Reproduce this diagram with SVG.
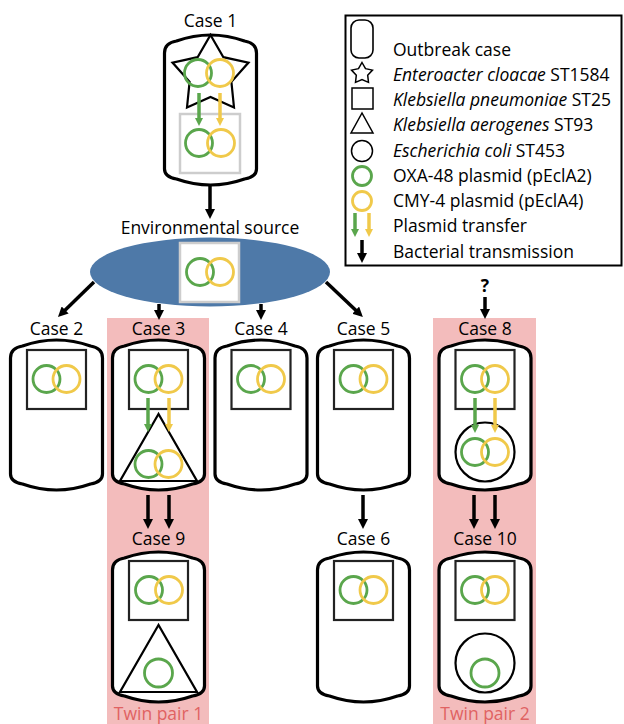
<svg xmlns="http://www.w3.org/2000/svg" width="624" height="724" viewBox="0 0 624 724">
<style>
text{font-family:"Open Sans","Liberation Sans",sans-serif;font-size:17.5px;fill:#000}
.lbl{text-anchor:middle}
.twin{fill:#e06262;text-anchor:middle}
.cyl{fill:#fff;stroke:#000;stroke-width:3.2}
.sq{fill:#fff;stroke:#222;stroke-width:2.2}
.gbox{fill:#fff;stroke:#cdcdcd;stroke-width:2.5}
.sh{fill:#fff;stroke:#000;stroke-width:2.2}
.g{fill:none;stroke:#5aa64c;stroke-width:2.8}
.y{fill:none;stroke:#f0c94a;stroke-width:2.8}
.pink{fill:#f3bcbc}
.ba{stroke:#000;stroke-width:3.5;fill:none;marker-end:url(#ab)}
.ga{stroke:#5aa64c;stroke-width:3.5;fill:none;marker-end:url(#ag)}
.ya{stroke:#f0c94a;stroke-width:3.5;fill:none;marker-end:url(#ay)}
</style>
<defs>
<path id="cylp" d="M0,18 Q0,8 12,6 Q46,-6 80,6 Q92,8 92,18 L92,134 Q92,142 80,144 Q46,156 12,144 Q0,142 0,134 Z"/>
<marker id="ab" markerUnits="userSpaceOnUse" markerWidth="10" markerHeight="10" refX="2" refY="5" orient="auto"><path d="M0,0 L10,5 L0,10 Z" fill="#000"/></marker>
<marker id="ag" markerUnits="userSpaceOnUse" markerWidth="8" markerHeight="8" refX="2" refY="4" orient="auto"><path d="M0,0 L8,4 L0,8 Z" fill="#5aa64c"/></marker>
<marker id="ay" markerUnits="userSpaceOnUse" markerWidth="8" markerHeight="8" refX="2" refY="4" orient="auto"><path d="M0,0 L8,4 L0,8 Z" fill="#f0c94a"/></marker>
</defs>
<rect fill="#fff" x="0" y="0" width="624" height="724"/>
<g id="twin1"><rect class="pink" x="107" y="318" width="102" height="406"/><text class="twin" x="158.5" y="720">Twin pair 1</text></g>
<g id="twin2"><rect class="pink" x="433" y="318" width="103" height="406"/><text class="twin" x="485" y="720">Twin pair 2</text></g>

<g id="legend">
<rect x="345.5" y="15.5" width="276" height="250" fill="#fff" stroke="#000" stroke-width="2"/>
<rect x="351" y="20" width="22" height="38" rx="8" fill="#fff" stroke="#000" stroke-width="1.6"/>
<text x="393" y="56">Outbreak case</text>
<polygon points="362,62.5 365.5,68.65 372.5,70.1 367.7,75.35 368.5,82.4 362,79.5 355.5,82.4 356.3,75.35 351.5,70.1 358.5,68.65" fill="#fff" stroke="#000" stroke-width="1.5"/>
<text x="393" y="81"><tspan font-style="italic">Enteroacter cloacae</tspan> ST1584</text>
<rect x="352" y="88" width="21" height="21" fill="#fff" stroke="#000" stroke-width="1.5"/>
<text x="393" y="106"><tspan font-style="italic">Klebsiella pneumoniae</tspan> ST25</text>
<polygon points="362,113 351,133 373,133" fill="#fff" stroke="#000" stroke-width="1.5"/>
<text x="393" y="131"><tspan font-style="italic">Klebsiella aerogenes</tspan> ST93</text>
<circle cx="362" cy="151" r="10.5" fill="#fff" stroke="#000" stroke-width="1.5"/>
<text x="393" y="157"><tspan font-style="italic">Escherichia coli</tspan> ST453</text>
<circle class="g" cx="362" cy="176" r="9.5"/>
<text x="393" y="182">OXA-48 plasmid (pEclA2)</text>
<circle class="y" cx="362" cy="201" r="9.5"/>
<text x="393" y="207">CMY-4 plasmid (pEclA4)</text>
<line class="ga" x1="355" y1="213" x2="355" y2="231"/>
<line class="ya" x1="369" y1="213" x2="369" y2="231"/>
<text x="393" y="232">Plasmid transfer</text>
<line class="ba" x1="362" y1="240" x2="362" y2="255" stroke-width="2.5"/>
<text x="393" y="258">Bacterial transmission</text>
</g>

<g id="case1">
<text class="lbl" x="210.5" y="27">Case 1</text>
<use href="#cylp" class="cyl" x="164.5" y="35"/>
<polygon class="sh" points="210.5,35 223.4,57.2 248.5,62.6 231.4,81.8 234,107.4 210.5,97 187,107.4 189.6,81.8 172.5,62.6 197.6,57.2"/>
<circle class="g" cx="198" cy="73" r="13.5"/>
<circle class="y" cx="220" cy="73" r="13.5"/>
<rect class="gbox" x="180" y="114" width="60" height="59"/>
<circle class="g" cx="199" cy="143" r="13.5"/>
<circle class="y" cx="221" cy="143" r="13.5"/>
<line class="ga" x1="199" y1="93" x2="199" y2="120"/>
<line class="ya" x1="220" y1="93" x2="220" y2="120"/>
</g>

<g id="env">
<text class="lbl" x="210" y="234">Environmental source</text>
<ellipse cx="210" cy="272" rx="120" ry="34.5" fill="#4e79a8"/>
<rect class="gbox" x="180" y="243" width="59" height="59"/>
<circle class="g" cx="200" cy="272" r="13.5"/>
<circle class="y" cx="220" cy="272" r="13.5"/>
</g>

<g id="case2">
<text class="lbl" x="56.5" y="335">Case 2</text>
<use href="#cylp" class="cyl" x="10.5" y="340"/>
<rect class="sq" x="27" y="350" width="59" height="59"/>
<circle class="g" cx="46.5" cy="379" r="13.5"/>
<circle class="y" cx="66.5" cy="379" r="13.5"/>
</g>

<g id="case3">
<text class="lbl" x="158.5" y="335">Case 3</text>
<use href="#cylp" class="cyl" x="112.5" y="340"/>
<rect class="sq" x="129" y="350" width="59" height="59"/>
<circle class="g" cx="148.5" cy="379" r="13.5"/>
<circle class="y" cx="168.5" cy="379" r="13.5"/>
<polygon class="sh" points="158.5,414 120,481 197,481"/>
<circle class="g" cx="148.5" cy="464" r="13.5"/>
<circle class="y" cx="168.5" cy="464" r="13.5"/>
<line class="ga" x1="148" y1="398" x2="148" y2="426"/>
<line class="ya" x1="169" y1="398" x2="169" y2="426"/>
</g>

<g id="case4">
<text class="lbl" x="261" y="335">Case 4</text>
<use href="#cylp" class="cyl" x="215" y="340"/>
<rect class="sq" x="231.5" y="350" width="59" height="59"/>
<circle class="g" cx="251" cy="379" r="13.5"/>
<circle class="y" cx="271" cy="379" r="13.5"/>
</g>

<g id="case5">
<text class="lbl" x="363.5" y="335">Case 5</text>
<use href="#cylp" class="cyl" x="317.5" y="340"/>
<rect class="sq" x="334" y="350" width="59" height="59"/>
<circle class="g" cx="353.5" cy="379" r="13.5"/>
<circle class="y" cx="373.5" cy="379" r="13.5"/>
</g>

<g id="case8">
<text x="485" y="292" class="lbl" font-weight="bold">?</text>
<text class="lbl" x="485" y="335">Case 8</text>
<use href="#cylp" class="cyl" x="439" y="340"/>
<rect class="sq" x="455.5" y="350" width="59" height="59"/>
<circle class="g" cx="475" cy="379" r="13.5"/>
<circle class="y" cx="495" cy="379" r="13.5"/>
<circle class="sh" cx="485" cy="452" r="29.5"/>
<circle class="g" cx="475" cy="452" r="13.5"/>
<circle class="y" cx="495" cy="452" r="13.5"/>
<line class="ga" x1="475" y1="398" x2="475" y2="427"/>
<line class="ya" x1="495" y1="398" x2="495" y2="427"/>
</g>

<g id="case9">
<text class="lbl" x="158.5" y="545">Case 9</text>
<use href="#cylp" class="cyl" x="112.5" y="552"/>
<rect class="sq" x="129" y="561" width="59" height="59"/>
<circle class="g" cx="149" cy="590" r="13.5"/>
<circle class="y" cx="169" cy="590" r="13.5"/>
<polygon class="sh" points="158.5,625 120,692 197,692"/>
<circle class="g" cx="158.5" cy="673" r="14"/>
</g>

<g id="case6">
<text class="lbl" x="363.5" y="545">Case 6</text>
<use href="#cylp" class="cyl" x="317.5" y="552"/>
<rect class="sq" x="334" y="561" width="59" height="59"/>
<circle class="g" cx="353.5" cy="590" r="13.5"/>
<circle class="y" cx="373.5" cy="590" r="13.5"/>
</g>

<g id="case10">
<text class="lbl" x="485" y="545">Case 10</text>
<use href="#cylp" class="cyl" x="439" y="552"/>
<rect class="sq" x="455.5" y="561" width="59" height="59"/>
<circle class="g" cx="475" cy="590" r="13.5"/>
<circle class="y" cx="495" cy="590" r="13.5"/>
<circle class="sh" cx="485" cy="663" r="29.5"/>
<circle class="g" cx="485" cy="673" r="14"/>
</g>

<g id="connectors">
<line class="ba" x1="210" y1="186" x2="210" y2="211"/>
<line class="ba" x1="94" y1="282" x2="63.7" y2="311.4"/>
<line class="ba" x1="326" y1="282" x2="357.1" y2="311.6"/>
<line class="ba" x1="159" y1="304" x2="159" y2="312"/>
<line class="ba" x1="261" y1="304" x2="261" y2="312"/>
<line class="ba" x1="485" y1="297" x2="485" y2="311"/>
<line class="ba" x1="148" y1="495" x2="148" y2="521"/>
<line class="ba" x1="169" y1="495" x2="169" y2="521"/>
<line class="ba" x1="363" y1="495" x2="363" y2="521"/>
<line class="ba" x1="474" y1="495" x2="474" y2="521"/>
<line class="ba" x1="495" y1="495" x2="495" y2="521"/>
</g>
</svg>
